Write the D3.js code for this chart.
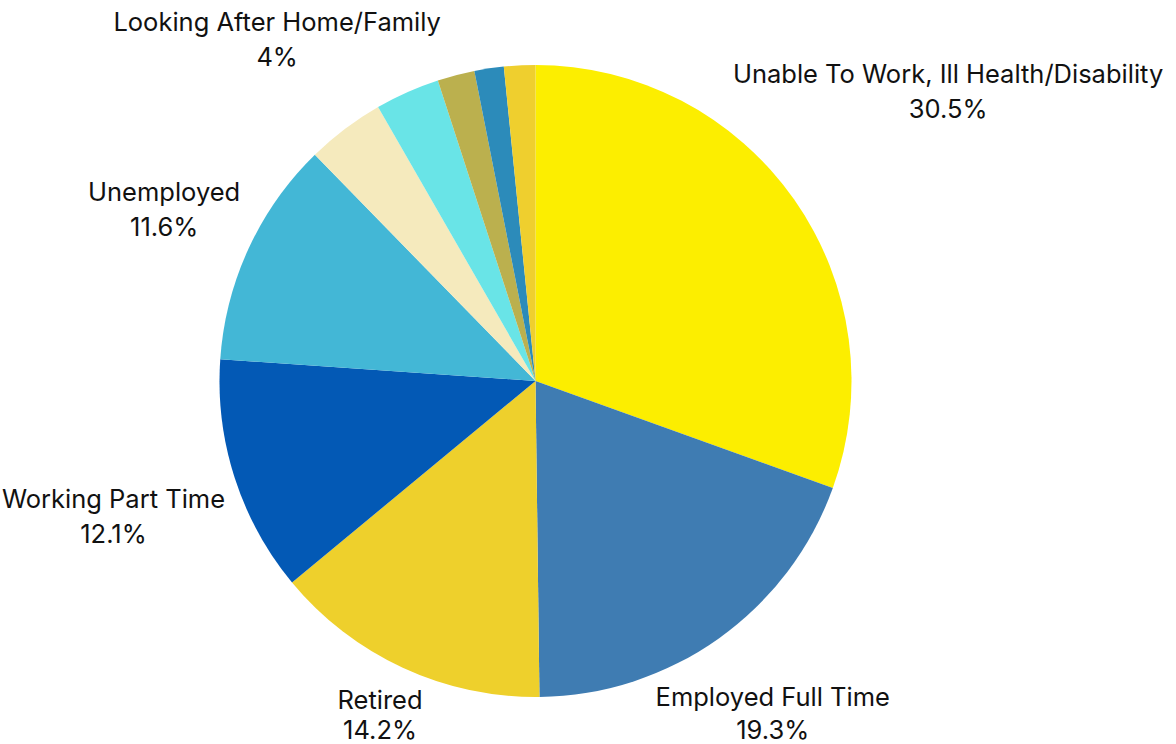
<!DOCTYPE html>
<html>
<head>
<meta charset="utf-8">
<script src="https://cdn.jsdelivr.net/npm/d3@7"></script>
<style>
  html, body { margin: 0; padding: 0; background: #ffffff; }
  svg { display: block; }
  text { font-family: Inter, "Noto Sans", sans-serif; fill: #111111; }
</style>
</head>
<body>
<svg id="chart" width="1176" height="744"></svg>
<script>
// Economic status breakdown (percent of respondents)
const categories = [
  "Unable To Work, Ill Health/Disability",
  "Employed Full Time",
  "Retired",
  "Working Part Time",
  "Unemployed",
  "Looking After Home/Family",
  "",
  "",
  "",
  ""
];
const values = [30.5, 19.3, 14.2, 12.1, 11.6, 4, 3.3, 1.9, 1.5, 1.6];
const colors = [
  "#FCEE00", "#3F7CB2", "#EED02C", "#0359B5", "#43B7D6",
  "#F5EABD", "#69E4E7", "#BBB04E", "#2C8BBA", "#EFCF2E"
];

const width = 1176, height = 744;
const cx = 535.5, cy = 381, radius = 316;
const fontSize = 25.5, lineGap = 35, labelPad = 13;
const bottomLimit = height - 5; // lowest baseline allowed for the percent line

const data = categories.map((name, i) => ({ name, value: values[i], color: colors[i] }));

const svg = d3.select("#chart");
const g = svg.append("g").attr("transform", `translate(${cx},${cy})`);

const pie = d3.pie().sort(null).value(d => d.value);
const arc = d3.arc().innerRadius(0).outerRadius(radius);
const arcs = pie(data);

g.selectAll("path.slice")
  .data(arcs)
  .join("path")
  .attr("class", "slice")
  .attr("d", arc)
  .attr("fill", d => d.data.color);

// Labels: two lines (name, percent), pushed out along the slice's mid angle
// until the text block clears the pie edge by labelPad.
const labelled = arcs.filter(d => d.data.name);
const labels = g.selectAll("g.label")
  .data(labelled)
  .join("g")
  .attr("class", "label");

labels.append("text")
  .attr("class", "name")
  .attr("text-anchor", "middle")
  .attr("font-size", fontSize)
  .attr("y", 0)
  .text(d => d.data.name);
labels.append("text")
  .attr("class", "pct")
  .attr("text-anchor", "middle")
  .attr("font-size", fontSize)
  .attr("y", lineGap)
  .text(d => `${d.data.value}%`);

labels.each(function(d) {
  const node = d3.select(this);
  const bb = this.getBBox();
  // block measured from cap top of first line to baseline of second line
  const top = -fontSize * 0.727, bottom = lineGap;
  const w = bb.width, h = bottom - top;
  const a = (d.startAngle + d.endAngle) / 2;
  const ux = Math.sin(a), uy = -Math.cos(a);
  const distTo = t => {
    const bx = t * ux, by = t * uy;
    const dx = Math.max(Math.abs(bx) - w / 2, 0);
    const dy = Math.max(Math.abs(by) - h / 2, 0);
    return Math.hypot(dx, dy);
  };
  let lo = 0, hi = 1200;
  for (let k = 0; k < 60; k++) {
    const mid = (lo + hi) / 2;
    if (distTo(mid) < radius + labelPad) lo = mid; else hi = mid;
  }
  const bx = hi * ux;
  const baseY = hi * uy - h / 2 - top;
  node.attr("transform", `translate(${bx},${baseY})`);
  // keep the percent line inside the canvas
  const maxPctY = bottomLimit - cy - baseY;
  node.select("text.pct").attr("y", Math.min(lineGap, maxPctY));
});
</script>
</body>
</html>
